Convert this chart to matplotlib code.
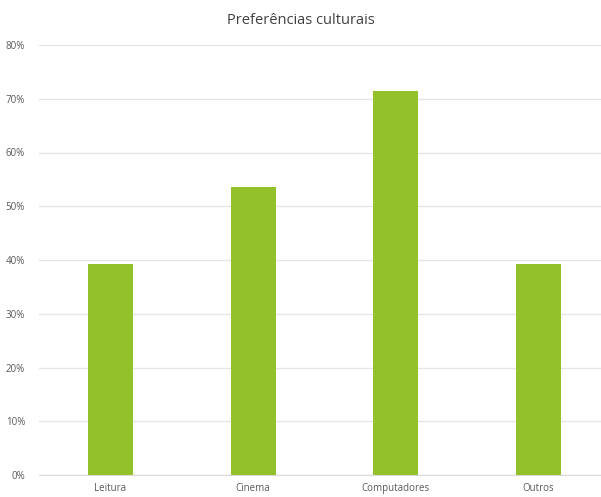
import matplotlib.pyplot as plt
from matplotlib.ticker import PercentFormatter

# ---------- data ----------
categorias = ["Leitura", "Cinema", "Computadores", "Outros"]
valores = [0.393, 0.536, 0.714, 0.393]
ticks_y = [0, 0.1, 0.2, 0.3, 0.4, 0.5, 0.6, 0.7, 0.8]

plt.rcParams['font.family'] = ['Open Sans', 'DejaVu Sans']

W, H = 601, 497
fig = plt.figure(figsize=(W / 100, H / 100), dpi=100)
# axes in pixel terms: left 39, bottom y=475, top y=45
ax = fig.add_axes([39 / W, 22 / H, 571 / W, 430 / H])

x = range(len(categorias))
ax.bar(x, valores, width=0.315, color="#92C12A", zorder=3)

ax.set_xlim(-0.5, 3.5)
ax.set_ylim(0, 0.8)
ax.set_yticks(ticks_y)
ax.yaxis.set_major_formatter(PercentFormatter(1.0, decimals=0))
ax.set_xticks(list(x))
ax.set_xticklabels(categorias)

ax.grid(axis="y", color="#e6e6e6", linewidth=1, zorder=0)
for s in ["top", "right", "left"]:
    ax.spines[s].set_visible(False)
ax.spines["bottom"].set_color("#d9d9d9")
ax.tick_params(axis="both", length=0, labelsize=7, colors="#595959", pad=6)
ax.tick_params(axis="y", pad=10)

fig.text(0.5, 1 - 20 / H, "Preferências culturais", ha="center", va="center",
         fontsize=10.5, color="#404040")

fig.savefig("out.png", dpi=100)
